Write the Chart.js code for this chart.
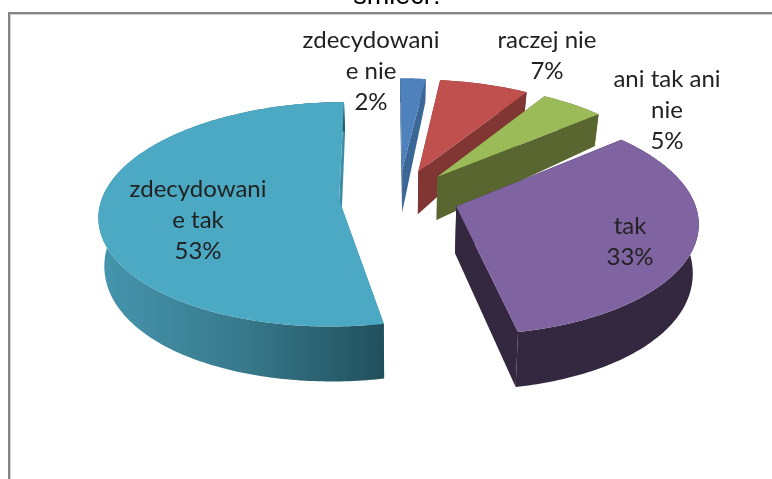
<!DOCTYPE html>
<html>
<head>
<meta charset="utf-8">
<script src="https://cdn.jsdelivr.net/npm/chart.js@4/dist/chart.umd.min.js"></script>
<style>
html, body { margin: 0; padding: 0; background: #fff; overflow: hidden; }
#frame { position: absolute; left: 8px; top: 12px; width: 800px; height: 500px; border: 2px solid #868686; box-shadow: inset 1px 1px 0 #d0d0d0; }
canvas { position: absolute; left: 0; top: 0; }
</style>
</head>
<body>
<div id="frame"></div>
<canvas id="wykres" width="772" height="479"></canvas>
<script>
var titleText = "śmieci?";
var categories = ["zdecydowanie nie", "raczej nie", "ani tak ani nie", "tak", "zdecydowanie tak"];
var values = [2, 7, 5, 33, 53];
var labelLines = [["zdecydowani", "e nie"], ["raczej nie"], ["ani tak ani", "nie"], ["tak"], ["zdecydowani", "e tak"]];
var topColors = ["#4F81BD", "#C0504D", "#9BBB59", "#8064A2", "#4BA9C4"];
var sideColors = ["#3B6797", "#813634", "#59662F", "#33283F", "#3D8DA3"];

// where the labels stand, centre x and y of the first line
var labelPos = [[371, 40], [547, 40], [667, 79], [630, 226], [198, 189]];

// perspective of the top and bottom plane of the pie
var top3d = { k: 0.463, d: 1881, dy: 0 };
var bottom3d = { k: 0.522, d: 2970, dy: 46, xs: 0.98 };

function rzut(cx, cy, X, Y, bottom) {
    var s = 1 / (1 - Y / top3d.d);
    if (!bottom) return [cx + X * s, cy + top3d.k * Y * s];
    var s2 = 1 / (1 - Y / bottom3d.d);
    return [cx + X * s * bottom3d.xs, cy + bottom3d.dy + bottom3d.k * Y * s2];
}

function sciezka(ctx, pts) {
    ctx.beginPath();
    for (var i = 0; i < pts.length; i++) {
        if (i == 0) ctx.moveTo(pts[i][0], pts[i][1]); else ctx.lineTo(pts[i][0], pts[i][1]);
    }
    ctx.closePath();
}

var pie3d = {
    id: "pie3d",
    beforeDatasetDraw: function (chart, args) {
        var ctx = chart.ctx;
        var arcs = chart.getDatasetMeta(args.index).data;
        for (var i = 0; i < arcs.length; i++) {
            var a = arcs[i];
            var r = a.outerRadius, off = a.options.offset;
            var mid = (a.startAngle + a.endAngle) / 2;
            var ox = Math.cos(mid) * off, oy = Math.sin(mid) * off;
            var n = Math.max(2, Math.ceil((a.endAngle - a.startAngle) * 60));
            var rimTop = [], rimBot = [];
            for (var j = 0; j <= n; j++) {
                var t = a.startAngle + (a.endAngle - a.startAngle) * j / n;
                var X = ox + r * Math.cos(t), Y = oy + r * Math.sin(t);
                rimTop.push(rzut(a.x, a.y, X, Y, false));
                rimBot.push(rzut(a.x, a.y, X, Y, true));
            }
            var apexT = rzut(a.x, a.y, ox, oy, false), apexB = rzut(a.x, a.y, ox, oy, true);
            ctx.save();
            ctx.fillStyle = sideColors[i];
            // radial walls
            sciezka(ctx, [apexT, rimTop[0], rimBot[0], apexB]);
            ctx.fill();
            sciezka(ctx, [apexT, rimTop[n], rimBot[n], apexB]);
            ctx.fill();
            // outer wall, the big slice gets the dark shading towards the front
            if (i == arcs.length - 1) {
                var side = ctx.createLinearGradient(96, 0, 388, 0);
                side.addColorStop(0, "#4596AF");
                side.addColorStop(0.5, "#38798C");
                side.addColorStop(1, "#204F5B");
                ctx.fillStyle = side;
            }
            sciezka(ctx, rimTop.concat(rimBot.slice().reverse()));
            ctx.fill();
            // top face
            ctx.fillStyle = topColors[i];
            sciezka(ctx, [apexT].concat(rimTop));
            ctx.fill();
            ctx.restore();
        }
        return false;
    },
    afterDatasetsDraw: function (chart) {
        var ctx = chart.ctx;
        ctx.save();
        ctx.font = "24px Lato";
        ctx.fillStyle = "#222222";
        ctx.textAlign = "center";
        ctx.textBaseline = "middle";
        for (var i = 0; i < values.length; i++) {
            var lines = labelLines[i].concat([values[i] + "%"]);
            for (var j = 0; j < lines.length; j++) {
                ctx.fillText(lines[j], labelPos[i][0], labelPos[i][1] + j * 31);
            }
        }
        ctx.restore();
    }
};

new Chart(document.getElementById("wykres"), {
    type: "pie",
    data: {
        labels: categories,
        datasets: [{
            data: values,
            backgroundColor: topColors,
            borderWidth: 0,
            radius: 237,
            offset: 60
        }]
    },
    options: {
        responsive: false,
        animation: false,
        rotation: -0.5,
        layout: { padding: { left: 26, right: 0, top: 0, bottom: 115 } },
        plugins: {
            legend: { display: false },
            tooltip: { enabled: false },
            title: {
                display: true,
                text: titleText,
                color: "#000000",
                font: { family: "Liberation Sans", size: 27, weight: "normal" },
                padding: { top: -20, bottom: 18 }
            }
        }
    },
    plugins: [pie3d]
});
</script>
</body>
</html>
